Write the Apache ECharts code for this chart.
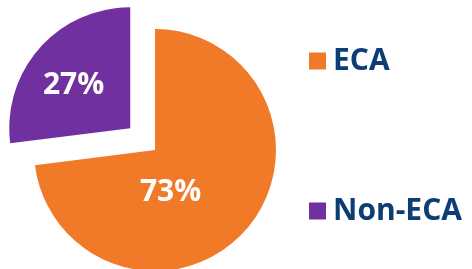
<!DOCTYPE html>
<html>
<head>
<meta charset="utf-8">
<script src="https://cdn.jsdelivr.net/npm/echarts@6/dist/echarts.min.js"></script>
<style>
  html, body { margin: 0; padding: 0; background: #fff; }
  #chart { width: 472px; height: 269px; }
</style>
</head>
<body>
<div id="chart"></div>
<script>
var categories = ['ECA', 'Non-ECA'];
var values = [73, 27];
var colors = ['#F07A28', '#7030A0'];
// nudges for the white percentage labels, per slice
var labelShift = [[-32, 0], [-9, -1]];

var myChart = echarts.init(document.getElementById('chart'));

var option = {
    animation: false,
    legend: {
        orient: 'vertical',
        left: 309,
        top: 46,
        padding: 0,
        icon: 'rect',
        itemWidth: 17,
        itemHeight: 17,
        itemGap: 120,
        selectedMode: false,
        textStyle: {
            fontFamily: 'Open Sans',
            fontWeight: 'bold',
            fontSize: 30,
            lineHeight: 30,
            color: '#0E3D75',
            padding: [0, 0, 0, 2]
        },
        data: categories
    },
    series: [
        {
            type: 'pie',
            center: [155, 150],
            radius: 121,
            startAngle: 90,
            clockwise: true,
            selectedMode: 'single',
            selectedOffset: 33,
            label: {
                show: true,
                position: 'inside',
                formatter: '{c}%',
                fontFamily: 'Open Sans',
                fontWeight: 'bold',
                fontSize: 30,
                color: '#fff'
            },
            labelLayout: function (params) {
                var s = labelShift[params.dataIndex];
                return { dx: s[0], dy: s[1] };
            },
            labelLine: { show: false },
            emphasis: { disabled: true },
            data: categories.map(function (name, i) {
                return {
                    name: name,
                    value: values[i],
                    selected: i === 1,
                    itemStyle: { color: colors[i] }
                };
            })
        }
    ]
};

myChart.setOption(option);
</script>
</body>
</html>
